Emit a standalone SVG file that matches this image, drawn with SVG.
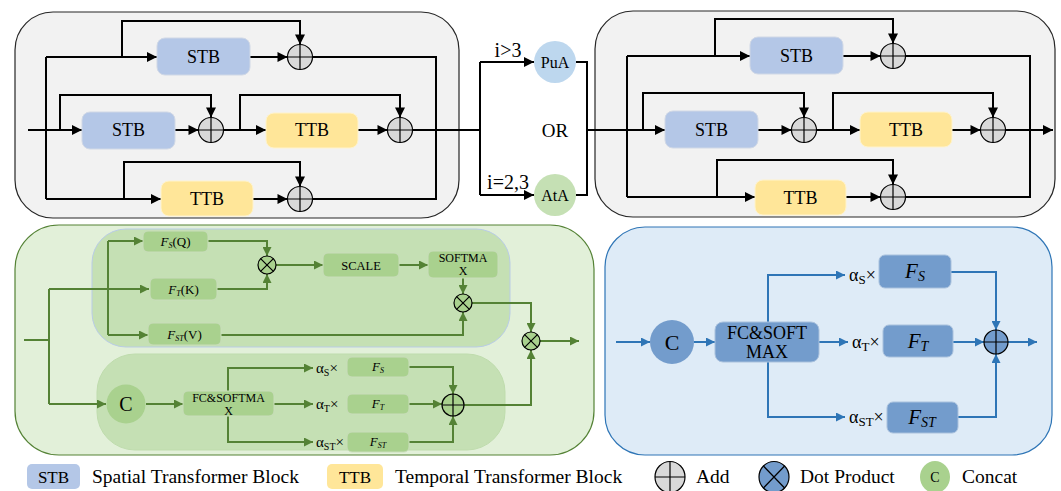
<svg xmlns="http://www.w3.org/2000/svg" width="1061" height="491" viewBox="0 0 1061 491">
<defs>
<marker id="ab" viewBox="0 0 10 10" refX="10" refY="5" markerWidth="11" markerHeight="10" markerUnits="userSpaceOnUse" orient="auto"><path d="M0,0 L10,5 L0,10 z" fill="#000"/></marker>
<marker id="ag" viewBox="0 0 10 10" refX="10" refY="5" markerWidth="10" markerHeight="9" markerUnits="userSpaceOnUse" orient="auto"><path d="M0,0 L10,5 L0,10 z" fill="#548235"/></marker>
<marker id="ae" viewBox="0 0 10 10" refX="10" refY="5" markerWidth="10" markerHeight="9" markerUnits="userSpaceOnUse" orient="auto"><path d="M0,0 L10,5 L0,10 z" fill="#2E75B6"/></marker>
</defs>
<style>
.panel{fill:#F2F2F2;stroke:#262626;stroke-width:1.2}
.stb{fill:#B4C7E7;stroke:#D0D8E6;stroke-width:1}
.ttb{fill:#FFE699;stroke:#FFF3CC;stroke-width:1}
text{font-family:'Liberation Serif','Tinos','DejaVu Serif','Times New Roman',serif;fill:#000}
.lk{fill:none;stroke:#000;stroke-width:2}
.lka{fill:none;stroke:#000;stroke-width:2;marker-end:url(#ab)}
.lg{fill:none;stroke:#548235;stroke-width:2}
.lga{fill:none;stroke:#548235;stroke-width:2;marker-end:url(#ag)}
.lb{fill:none;stroke:#2E75B6;stroke-width:2}
.lba{fill:none;stroke:#2E75B6;stroke-width:2;marker-end:url(#ae)}
.add{fill:#D9D9D9;stroke:#000;stroke-width:1.2}
.x{stroke:#000;stroke-width:1.2;fill:none}
.gbox{fill:#A9D18E;stroke:#C9DDBB;stroke-width:1}
.bbox{fill:#739CCC;stroke:#A9C1DD;stroke-width:1}
</style>

<!-- panels -->
<rect x="15" y="12" width="444" height="206" rx="38" class="panel"/>
<rect x="595" y="11" width="460" height="206" rx="38" class="panel"/>
<rect x="15" y="225" width="579" height="230" rx="44" fill="#E2F0D9" stroke="#548235" stroke-width="1.2"/>
<rect x="92" y="229" width="418" height="118" rx="34" fill="#C5E0B4" stroke="#B9CCE6" stroke-width="1"/>
<rect x="97" y="354" width="408" height="96" rx="38" fill="#C5E0B4" stroke="#BFDCAD" stroke-width="1"/>
<rect x="605" y="227" width="447" height="228" rx="40" fill="#DEEBF7" stroke="#2E75B6" stroke-width="1.2"/>

<!-- connectors -->
<g id="connectors">
<path class="lk" d="M46,57 V199"/>
<path class="lka" d="M28,130 H82"/>
<path class="lka" d="M60,130 V95 H211 V117.5"/>
<path class="lka" d="M46,57 H157"/>
<path class="lka" d="M122,57 V21 H300 V44.5"/>
<path class="lka" d="M250,57 H287.5"/>
<path class="lk" d="M312.5,57 H436 V199 H312.5"/>
<path class="lka" d="M175,130 H198.5"/>
<path class="lka" d="M223.5,130 H266"/>
<path class="lka" d="M240,130 V95 H400 V117.5"/>
<path class="lka" d="M358,130 H387.5"/>
<path class="lk" d="M412.5,130 H480"/>
<path class="lka" d="M46,199 H161"/>
<path class="lka" d="M124,199 V162 H300 V186.5"/>
<path class="lka" d="M253,199 H287.5"/>
<path class="lk" d="M480,62 V195"/>
<path class="lka" d="M480,62 H534"/>
<path class="lka" d="M480,195 H534"/>
<path class="lk" d="M576,62 H587 V195 H576"/>
<path class="lka" d="M587,130 H665"/>
<path class="lk" d="M627,56 V197"/>
<path class="lka" d="M627,56 H750"/>
<path class="lka" d="M715,56 V19 H893 V43.5"/>
<path class="lka" d="M843,56 H880.5"/>
<path class="lk" d="M905.5,56 H1030 V197 H905.5"/>
<path class="lka" d="M643,130 V93 H804 V117.5"/>
<path class="lka" d="M758,130 H791.5"/>
<path class="lka" d="M816.5,130 H860"/>
<path class="lka" d="M833,130 V93 H993 V117.5"/>
<path class="lka" d="M952,130 H980.5"/>
<path class="lka" d="M1005.5,130 H1053"/>
<path class="lka" d="M627,197 H755"/>
<path class="lka" d="M717,197 V160 H893 V184.5"/>
<path class="lka" d="M846,197 H880.5"/>
<path class="lg" d="M24,340 H49"/>
<path class="lg" d="M49,289 V404"/>
<path class="lga" d="M49,289 H149"/>
<path class="lg" d="M108,241 V335"/>
<path class="lga" d="M108,241 H143"/>
<path class="lga" d="M108,335 H148"/>
<path class="lga" d="M49,404 H106"/>
<path class="lga" d="M208,241 H267 V256"/>
<path class="lga" d="M217,289 H267 V274"/>
<path class="lga" d="M276,265 H323"/>
<path class="lga" d="M399,265 H428"/>
<path class="lga" d="M463,278 V294"/>
<path class="lga" d="M221,335 H463 V312"/>
<path class="lga" d="M472,303 H531 V332"/>
<path class="lga" d="M540,341 H579"/>
<path class="lga" d="M146,404 H183"/>
<path class="lga" d="M228,391 V368 H313"/>
<path class="lga" d="M228,416 V442 H313"/>
<path class="lga" d="M274,404 H313"/>
<path class="lga" d="M409,367 H453 V394"/>
<path class="lga" d="M409,404 H442"/>
<path class="lga" d="M409,442 H453 V416"/>
<path class="lga" d="M464,405 H531 V350"/>
<path class="lba" d="M616,342 H650"/>
<path class="lba" d="M694,342 H715"/>
<path class="lba" d="M768,322 V275 H845"/>
<path class="lba" d="M768,362 V417 H845"/>
<path class="lba" d="M819,342 H848"/>
<path class="lba" d="M951,272 H996 V330"/>
<path class="lba" d="M953,342 H984"/>
<path class="lba" d="M958,417 H996 V354"/>
<path class="lba" d="M1008,342 H1037"/>
</g>

<!-- top-left nodes -->
<g id="tl-stb1"><rect x="157" y="38" width="93" height="37" rx="8" class="stb"/><text x="203.5" y="63" font-size="18" text-anchor="middle">STB</text></g>
<g id="tl-add1"><circle cx="300" cy="57" r="12.5" class="add"/><path class="x" d="M287.5,57 H312.5 M300,44.5 V69.5"/></g>
<g id="tl-stb2"><rect x="82" y="112" width="93" height="37" rx="8" class="stb"/><text x="128.5" y="136" font-size="18" text-anchor="middle">STB</text></g>
<g id="tl-add2"><circle cx="211" cy="130" r="12.5" class="add"/><path class="x" d="M198.5,130 H223.5 M211,117.5 V142.5"/></g>
<g id="tl-ttb1"><rect x="266" y="113" width="92" height="35" rx="8" class="ttb"/><text x="312" y="136" font-size="18" text-anchor="middle">TTB</text></g>
<g id="tl-add3"><circle cx="400" cy="130" r="12.5" class="add"/><path class="x" d="M387.5,130 H412.5 M400,117.5 V142.5"/></g>
<g id="tl-ttb2"><rect x="161" y="181" width="92" height="35" rx="8" class="ttb"/><text x="207" y="205" font-size="18" text-anchor="middle">TTB</text></g>
<g id="tl-add4"><circle cx="300" cy="199" r="12.5" class="add"/><path class="x" d="M287.5,199 H312.5 M300,186.5 V211.5"/></g>

<!-- middle nodes -->
<g id="pua"><circle cx="555" cy="62" r="21" fill="#BDD7EE"/><text x="555" y="67.5" font-size="16" text-anchor="middle">PuA</text></g>
<g id="ata"><circle cx="555" cy="195" r="21" fill="#C5E0B4"/><text x="555" y="200.5" font-size="16" text-anchor="middle">AtA</text></g>
<g id="labels-mid">
<text x="508" y="57" font-size="20" text-anchor="middle">i&gt;3</text>
<text x="508" y="189" font-size="20" text-anchor="middle">i=2,3</text>
<text x="555" y="137" font-size="19" text-anchor="middle">OR</text>
</g>

<!-- top-right nodes -->
<g id="tr-stb1"><rect x="750" y="37" width="93" height="37" rx="8" class="stb"/><text x="796.5" y="62" font-size="18" text-anchor="middle">STB</text></g>
<g id="tr-add1"><circle cx="893" cy="56" r="12.5" class="add"/><path class="x" d="M880.5,56 H905.5 M893,43.5 V68.5"/></g>
<g id="tr-stb2"><rect x="665" y="111" width="93" height="37" rx="8" class="stb"/><text x="711.5" y="136" font-size="18" text-anchor="middle">STB</text></g>
<g id="tr-add2"><circle cx="804" cy="130" r="12.5" class="add"/><path class="x" d="M791.5,130 H816.5 M804,117.5 V142.5"/></g>
<g id="tr-ttb1"><rect x="860" y="112" width="92" height="35" rx="8" class="ttb"/><text x="906" y="136" font-size="18" text-anchor="middle">TTB</text></g>
<g id="tr-add3"><circle cx="993" cy="130" r="12.5" class="add"/><path class="x" d="M980.5,130 H1005.5 M993,117.5 V142.5"/></g>
<g id="tr-ttb2"><rect x="755" y="180" width="91" height="35" rx="8" class="ttb"/><text x="800.5" y="204" font-size="18" text-anchor="middle">TTB</text></g>
<g id="tr-add4"><circle cx="893" cy="197" r="12.5" class="add"/><path class="x" d="M880.5,197 H905.5 M893,184.5 V209.5"/></g>

<!-- bottom-left nodes -->
<g id="fsq"><rect x="143" y="231" width="65" height="21" rx="5" class="gbox"/><text x="175.5" y="245.5" font-size="13" text-anchor="middle"><tspan font-style="italic">F</tspan><tspan font-style="italic" font-size="8" dy="2">S</tspan><tspan dy="-2">(Q)</tspan></text></g>
<g id="ftk"><rect x="150" y="278" width="67" height="22" rx="5" class="gbox"/><text x="183.5" y="293.5" font-size="13" text-anchor="middle"><tspan font-style="italic">F</tspan><tspan font-style="italic" font-size="8" dy="2">T</tspan><tspan dy="-2">(K)</tspan></text></g>
<g id="fstv"><rect x="148" y="323" width="73" height="22" rx="5" class="gbox"/><text x="184.5" y="338.5" font-size="13" text-anchor="middle"><tspan font-style="italic">F</tspan><tspan font-style="italic" font-size="8" dy="2">ST</tspan><tspan dy="-2">(V)</tspan></text></g>
<g id="dot1"><circle cx="267" cy="265" r="9" fill="#A9D18E" stroke="#000" stroke-width="1.2"/><path class="x" d="M260.6,258.6 L273.4,271.4 M273.4,258.6 L260.6,271.4"/></g>
<g id="scale"><rect x="323" y="253" width="76" height="24" rx="5" class="gbox"/><text x="361" y="269.5" font-size="12.5" text-anchor="middle">SCALE</text></g>
<g id="softmax"><rect x="428" y="251" width="70" height="27" rx="5" class="gbox"/><text x="463" y="262" font-size="12" text-anchor="middle">SOFTMA</text><text x="463" y="275" font-size="12" text-anchor="middle">X</text></g>
<g id="dot2"><circle cx="463" cy="303" r="9" fill="#A9D18E" stroke="#000" stroke-width="1.2"/><path class="x" d="M456.6,296.6 L469.4,309.4 M469.4,296.6 L456.6,309.4"/></g>
<g id="dot3"><circle cx="531" cy="341" r="9" fill="#A9D18E" stroke="#000" stroke-width="1.2"/><path class="x" d="M524.6,334.6 L537.4,347.4 M537.4,334.6 L524.6,347.4"/></g>
<g id="gc"><circle cx="126" cy="404" r="19.5" fill="#A9D18E"/><text x="126" y="411" font-size="20" text-anchor="middle">C</text></g>
<g id="gfc"><rect x="183" y="391" width="91" height="25" rx="5" class="gbox"/><text x="228.5" y="402" font-size="12" text-anchor="middle">FC&amp;SOFTMA</text><text x="228.5" y="415" font-size="12" text-anchor="middle">X</text></g>
<g id="galpha">
<text x="316" y="373" font-size="15">α<tspan font-size="10" dy="3">S</tspan><tspan dy="-3">×</tspan></text>
<text x="316" y="409" font-size="15">α<tspan font-size="10" dy="3">T</tspan><tspan dy="-3">×</tspan></text>
<text x="316" y="447" font-size="15">α<tspan font-size="10" dy="3">ST</tspan><tspan dy="-3">×</tspan></text>
</g>
<g id="gfs"><rect x="347" y="357" width="62" height="20" rx="5" class="gbox"/><text x="378" y="371" font-size="13" text-anchor="middle"><tspan font-style="italic">F</tspan><tspan font-style="italic" font-size="8" dy="2">S</tspan></text></g>
<g id="gft"><rect x="347" y="394" width="62" height="20" rx="5" class="gbox"/><text x="378" y="408" font-size="13" text-anchor="middle"><tspan font-style="italic">F</tspan><tspan font-style="italic" font-size="8" dy="2">T</tspan></text></g>
<g id="gfst"><rect x="347" y="432" width="62" height="20" rx="5" class="gbox"/><text x="378" y="446" font-size="13" text-anchor="middle"><tspan font-style="italic">F</tspan><tspan font-style="italic" font-size="8" dy="2">ST</tspan></text></g>
<g id="gadd"><circle cx="453" cy="405" r="11" fill="#A9D18E" stroke="#000" stroke-width="1.2"/><path class="x" d="M442,405 H464 M453,394 V416"/></g>

<!-- bottom-right nodes -->
<g id="bc"><circle cx="672" cy="342" r="22" fill="#739CCC"/><text x="672" y="350" font-size="22" text-anchor="middle">C</text></g>
<g id="bfc"><rect x="715" y="322" width="104" height="40" rx="8" class="bbox"/><text x="767" y="339" font-size="18" text-anchor="middle">FC&amp;SOFT</text><text x="767" y="358" font-size="18" text-anchor="middle">MAX</text></g>
<g id="balpha">
<text x="849" y="281" font-size="18">α<tspan font-size="13" dy="3">S</tspan><tspan dy="-3">×</tspan></text>
<text x="852" y="348" font-size="18">α<tspan font-size="13" dy="3">T</tspan><tspan dy="-3">×</tspan></text>
<text x="849" y="423" font-size="18">α<tspan font-size="13" dy="3">ST</tspan><tspan dy="-3">×</tspan></text>
</g>
<g id="bfs"><rect x="879" y="255" width="72" height="33" rx="6" class="bbox"/><text x="915" y="278" font-size="21" text-anchor="middle"><tspan font-style="italic">F</tspan><tspan font-style="italic" font-size="14" dy="3">S</tspan></text></g>
<g id="bft"><rect x="883" y="325" width="70" height="32" rx="6" class="bbox"/><text x="918" y="348" font-size="21" text-anchor="middle"><tspan font-style="italic">F</tspan><tspan font-style="italic" font-size="14" dy="3">T</tspan></text></g>
<g id="bfst"><rect x="887" y="402" width="71" height="31" rx="6" class="bbox"/><text x="922" y="424" font-size="21" text-anchor="middle"><tspan font-style="italic">F</tspan><tspan font-style="italic" font-size="14" dy="3">ST</tspan></text></g>
<g id="badd"><circle cx="996" cy="342" r="12" fill="#739CCC" stroke="#000" stroke-width="1.2"/><path class="x" d="M984,342 H1008 M996,330 V354"/></g>

<!-- legend -->
<g id="legend">
<rect x="27" y="464" width="53" height="25" rx="5" fill="#B4C7E7"/>
<text x="53.5" y="483" font-size="17" text-anchor="middle">STB</text>
<text x="92" y="483" font-size="19.5">Spatial Transformer Block</text>
<rect x="327" y="464" width="56" height="25" rx="5" fill="#FFE699"/>
<text x="355" y="483" font-size="17" text-anchor="middle">TTB</text>
<text x="395" y="483" font-size="19.5">Temporal Transformer Block</text>
<ellipse cx="670" cy="477" rx="15" ry="15.5" class="add"/>
<path class="x" d="M655,477 H685 M670,461.5 V492.5"/>
<text x="696" y="483" font-size="19.5">Add</text>
<ellipse cx="774" cy="477" rx="15" ry="15.5" fill="#739CCC" stroke="#000" stroke-width="1.2"/>
<path class="x" d="M763.4,466 L784.6,488 M784.6,466 L763.4,488"/>
<text x="800" y="483" font-size="19.5">Dot Product</text>
<ellipse cx="935" cy="477" rx="15" ry="16" fill="#A9D18E"/>
<text x="935" y="482" font-size="14" text-anchor="middle">C</text>
<text x="962" y="483" font-size="19.5">Concat</text>
</g>
</svg>
